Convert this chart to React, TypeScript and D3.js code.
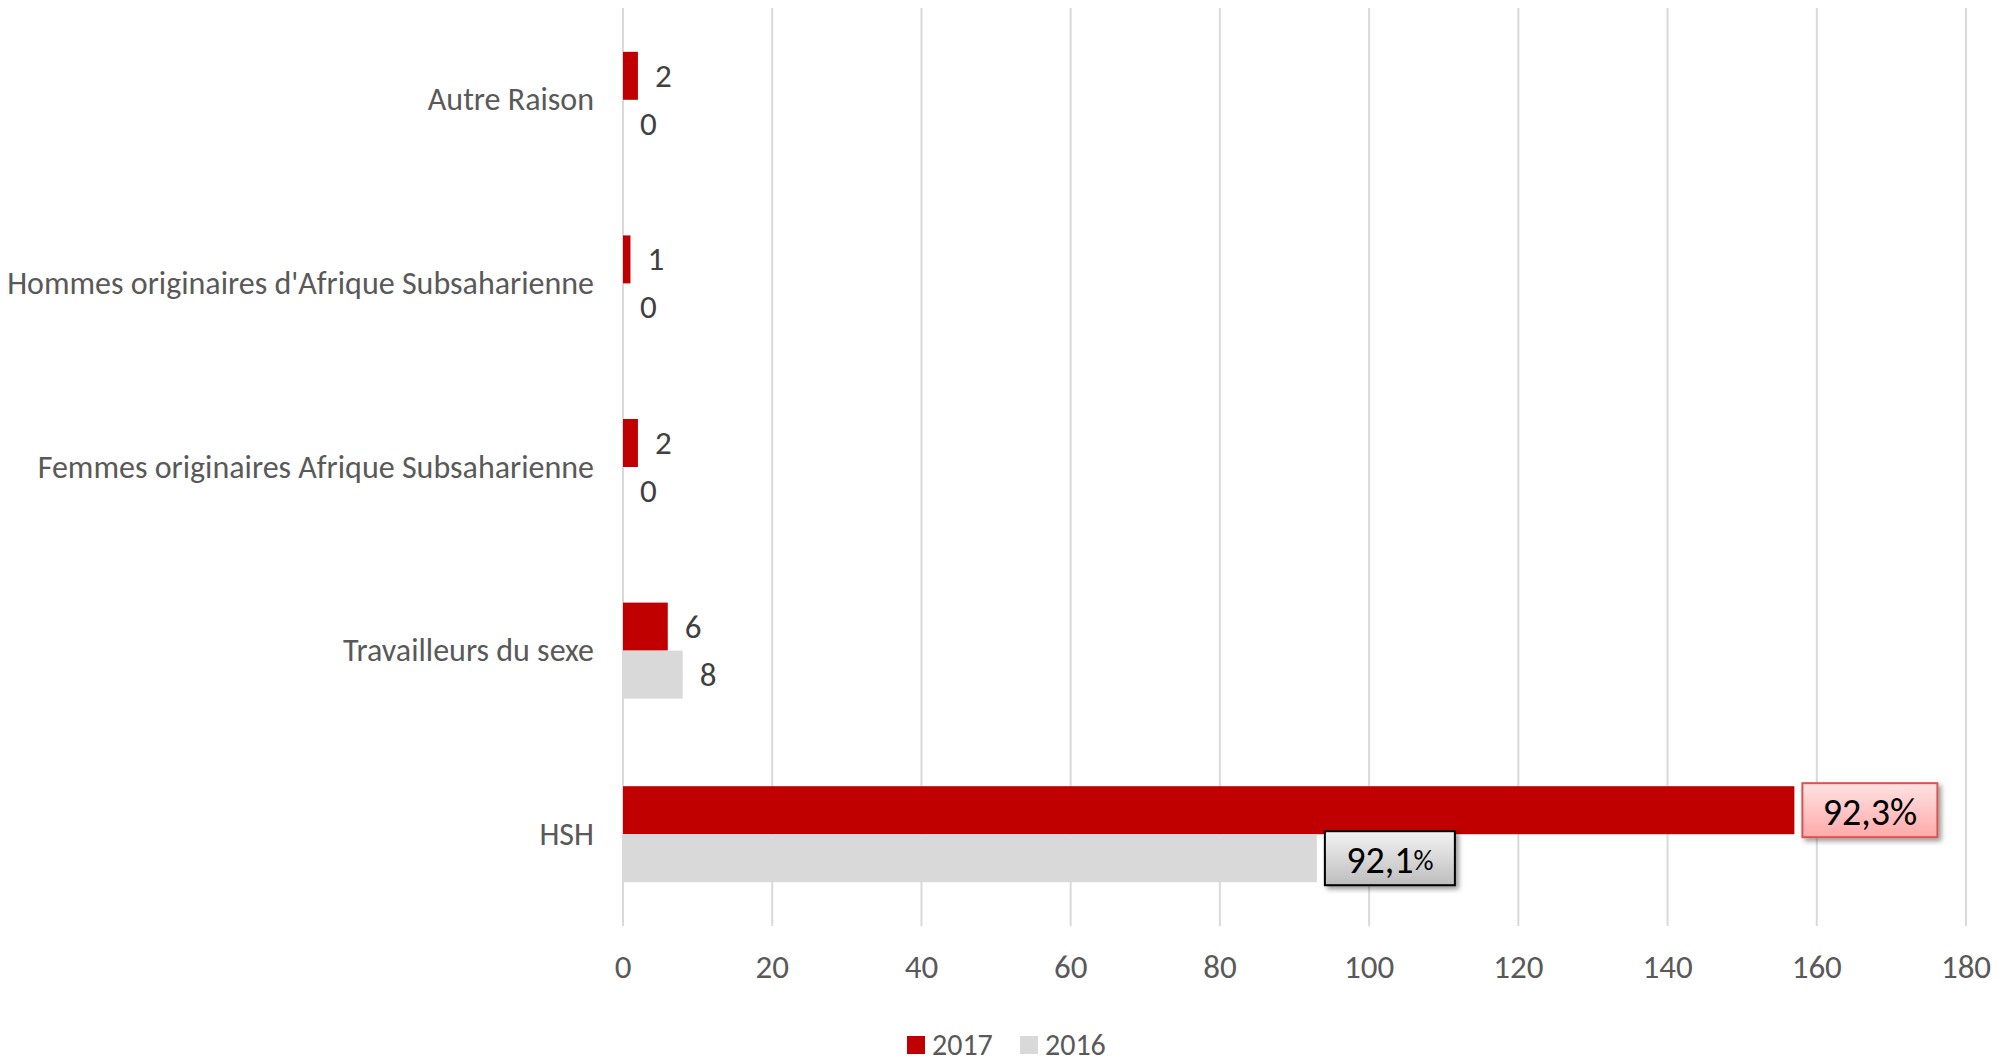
import React from "react";
import * as d3 from "d3";

const categories = [
  "Autre Raison",
  "Hommes originaires d'Afrique Subsaharienne",
  "Femmes originaires Afrique Subsaharienne",
  "Travailleurs du sexe",
  "HSH",
];
const series = ["2017", "2016"];
const values2017 = [2, 1, 2, 6, 157];
const values2016 = [0, 0, 0, 8, 93];
const hshLabels = ["92,3%", "92,1%"];
const ticks = [0, 20, 40, 60, 80, 100, 120, 140, 160, 180];
const colors = ["#c00000", "#d9d9d9"];

const W = 2011;
const H = 1061;
const FONT = "Calibri, Carlito, Lato, sans-serif";

export default function App() {
  const x = d3.scaleLinear().domain([0, 180]).range([623, 1966]);
  const y0 = d3.scaleBand().domain(categories).range([8, 926]).padding(0);
  const bw = y0.bandwidth();
  const y1 = d3
    .scaleBand()
    .domain(series)
    .range([bw / 2 - 48, bw / 2 + 48])
    .padding(0);
  const data = [values2017, values2016];
  const last = categories.length - 1;

  return (
    <svg
      width={W}
      height={H}
      style={{ position: "absolute", left: 0, top: 0, background: "#fff" }}
      fontFamily={FONT}
    >
      <defs>
        <linearGradient id="gRed" x1="0" y1="0" x2="0" y2="1">
          <stop offset="0" stopColor="#ffe3e3" />
          <stop offset="1" stopColor="#ffa9a9" />
        </linearGradient>
        <linearGradient id="gGray" x1="0" y1="0" x2="0" y2="1">
          <stop offset="0" stopColor="#f3f3f3" />
          <stop offset="1" stopColor="#bdbdbd" />
        </linearGradient>
        <filter id="shadow" x="-20%" y="-20%" width="150%" height="160%">
          <feDropShadow dx="3" dy="3" stdDeviation="2.5" floodColor="#000" floodOpacity="0.4" />
        </filter>
      </defs>

      {/* gridlines */}
      {ticks.map((t) => (
        <line
          key={t}
          x1={x(t)}
          x2={x(t)}
          y1={8}
          y2={926}
          stroke="#d9d9d9"
          strokeWidth={2}
        />
      ))}

      {/* bars */}
      {categories.map((c, i) => (
        <g key={c} transform={`translate(0,${y0(c)})`}>
          {series.map((s, j) => (
            <rect
              key={s}
              x={x(0)}
              y={y1(s)}
              width={x(data[j][i]) - x(0)}
              height={y1.bandwidth()}
              fill={colors[j]}
            />
          ))}
        </g>
      ))}

      {/* value labels */}
      {categories.map((c, i) =>
        i === last
          ? null
          : series.map((s, j) => (
              <text
                key={c + s}
                x={x(data[j][i]) + 17}
                y={(y0(c) as number) + (y1(s) as number) + y1.bandwidth() / 2}
                dominantBaseline="central"
                fontSize={33}
                fill="#404040"
              >
                {data[j][i]}
              </text>
            ))
      )}

      {/* HSH boxed labels */}
      {series.map((s, j) => {
        const cy = (y0(categories[last]) as number) + (y1(s) as number) + y1.bandwidth() / 2;
        const bx = x(data[j][last]) + 8;
        const bwid = j === 0 ? 135 : 130;
        const bh = 54;
        return (
          <g key={s}>
            <rect
              x={bx}
              y={cy - bh / 2}
              width={bwid}
              height={bh}
              fill={j === 0 ? "url(#gRed)" : "url(#gGray)"}
              stroke={j === 0 ? "#d9534f" : "#000"}
              strokeWidth={2}
              filter="url(#shadow)"
            />
            <text
              x={bx + bwid / 2}
              y={cy + 2}
              textAnchor="middle"
              dominantBaseline="central"
              fontSize={38}
              fill="#000"
            >
              {j === 0 ? (
                hshLabels[j]
              ) : (
                <>
                  {hshLabels[j].slice(0, -1)}
                  <tspan fontSize={28}>%</tspan>
                </>
              )}
            </text>
          </g>
        );
      })}

      {/* category labels */}
      {categories.map((c) => (
        <text
          key={c}
          x={594}
          y={(y0(c) as number) + bw / 2}
          textAnchor="end"
          dominantBaseline="central"
          fontSize={32}
          fill="#595959"
        >
          {c}
        </text>
      ))}

      {/* x tick labels */}
      {ticks.map((t) => (
        <text
          key={t}
          x={x(t)}
          y={967}
          textAnchor="middle"
          dominantBaseline="central"
          fontSize={33}
          fill="#595959"
        >
          {t}
        </text>
      ))}

      {/* legend */}
      {series.map((s, j) => {
        const lx = j === 0 ? 907 : 1020;
        return (
          <g key={s}>
            <rect x={lx} y={1036} width={18} height={18} fill={colors[j]} />
            <text
              x={lx + 25}
              y={1044}
              dominantBaseline="central"
              fontSize={30}
              fill="#595959"
            >
              {s}
            </text>
          </g>
        );
      })}
    </svg>
  );
}
